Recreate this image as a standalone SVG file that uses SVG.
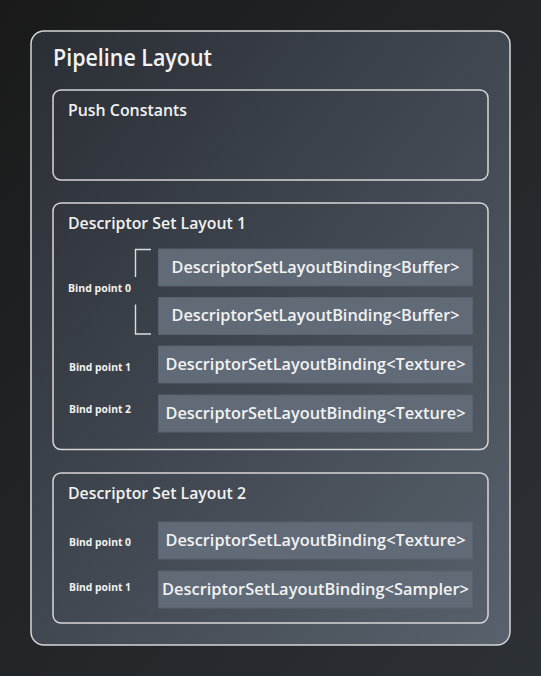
<svg xmlns="http://www.w3.org/2000/svg" width="541" height="676" viewBox="0 0 541 676">
<defs>
<linearGradient id="bg" x1="0" y1="0" x2="1" y2="1">
<stop offset="0" stop-color="#1a1a1a"/>
<stop offset="1" stop-color="#2c3136"/>
</linearGradient>
<linearGradient id="panel" x1="0" y1="0" x2="1" y2="1">
<stop offset="0" stop-color="#2a2e35"/>
<stop offset="1" stop-color="#58616c"/>
</linearGradient>
</defs>
<style>
.outer{fill:url(#panel);stroke:#d6d6d6;stroke-width:1.5}
.box{fill:none;stroke:#d6d6d6;stroke-width:1.5}
.bind{fill:#616b78;stroke:#59636f;stroke-width:1}
text{font-family:"Open Sans","Noto Sans","Liberation Sans",sans-serif;fill:#f2f2f2;font-weight:600}
.h1{font-size:22.5px}
.h2{font-size:16px}
.bt{font-size:15.5px;text-anchor:middle}
.bp{font-size:11px;font-weight:700}
.br{fill:none;stroke:#dcdcdc;stroke-width:1.4}
</style>
<rect x="0" y="0" width="541" height="676" fill="url(#bg)"/>
<g id="pipeline-layout">
<rect class="outer" x="31" y="31" width="479" height="614" rx="13"/>
<text class="h1" x="53" y="66" textLength="159" lengthAdjust="spacingAndGlyphs">Pipeline Layout</text>
</g>
<g id="push-constants">
<rect class="box" x="53" y="90" width="435" height="90" rx="8"/>
<text class="h2" x="68" y="116" textLength="119" lengthAdjust="spacingAndGlyphs">Push Constants</text>
</g>
<g id="descriptor-set-layout-1">
<rect class="box" x="53" y="203" width="435" height="246.5" rx="8"/>
<text class="h2" x="68" y="228.5" textLength="178" lengthAdjust="spacingAndGlyphs">Descriptor Set Layout 1</text>
</g>
<g id="dsl1-bind0-a">
<rect class="bind" x="158.5" y="249" width="314" height="37"/>
<text class="bt" x="315.5" y="272.5" textLength="288" lengthAdjust="spacingAndGlyphs">DescriptorSetLayoutBinding&lt;Buffer&gt;</text>
</g>
<g id="dsl1-bind0-b">
<rect class="bind" x="158.5" y="297.5" width="314" height="37"/>
<text class="bt" x="315.5" y="321" textLength="288" lengthAdjust="spacingAndGlyphs">DescriptorSetLayoutBinding&lt;Buffer&gt;</text>
</g>
<g id="dsl1-bind0-label">
<text class="bp" x="68" y="292" textLength="63" lengthAdjust="spacingAndGlyphs">Bind point 0</text>
</g>
<g id="dsl1-bind1">
<text class="bp" x="69" y="370.5" textLength="62" lengthAdjust="spacingAndGlyphs">Bind point 1</text>
<rect class="bind" x="158.5" y="346" width="314" height="37"/>
<text class="bt" x="315.5" y="369.5" textLength="300" lengthAdjust="spacingAndGlyphs">DescriptorSetLayoutBinding&lt;Texture&gt;</text>
</g>
<g id="dsl1-bind2">
<text class="bp" x="69" y="413" textLength="62" lengthAdjust="spacingAndGlyphs">Bind point 2</text>
<rect class="bind" x="158.5" y="395" width="314" height="37"/>
<text class="bt" x="315.5" y="418.5" textLength="300" lengthAdjust="spacingAndGlyphs">DescriptorSetLayoutBinding&lt;Texture&gt;</text>
</g>
<g id="descriptor-set-layout-2">
<rect class="box" x="53" y="473" width="435" height="150" rx="8"/>
<text class="h2" x="68" y="498.5" textLength="178" lengthAdjust="spacingAndGlyphs">Descriptor Set Layout 2</text>
</g>
<g id="dsl2-bind0">
<text class="bp" x="69" y="546" textLength="62" lengthAdjust="spacingAndGlyphs">Bind point 0</text>
<rect class="bind" x="158.5" y="522" width="314" height="37"/>
<text class="bt" x="315.5" y="545.5" textLength="300" lengthAdjust="spacingAndGlyphs">DescriptorSetLayoutBinding&lt;Texture&gt;</text>
</g>
<g id="dsl2-bind1">
<text class="bp" x="69" y="590.5" textLength="62" lengthAdjust="spacingAndGlyphs">Bind point 1</text>
<rect class="bind" x="158.5" y="571" width="314" height="37"/>
<text class="bt" x="315.5" y="594.5" textLength="307" lengthAdjust="spacingAndGlyphs">DescriptorSetLayoutBinding&lt;Sampler&gt;</text>
</g>
<g id="connectors">
<path class="br" d="M151 249.5 H135.5 V277"/>
<path class="br" d="M135.5 304.5 V334 H151"/>
</g>
</svg>
